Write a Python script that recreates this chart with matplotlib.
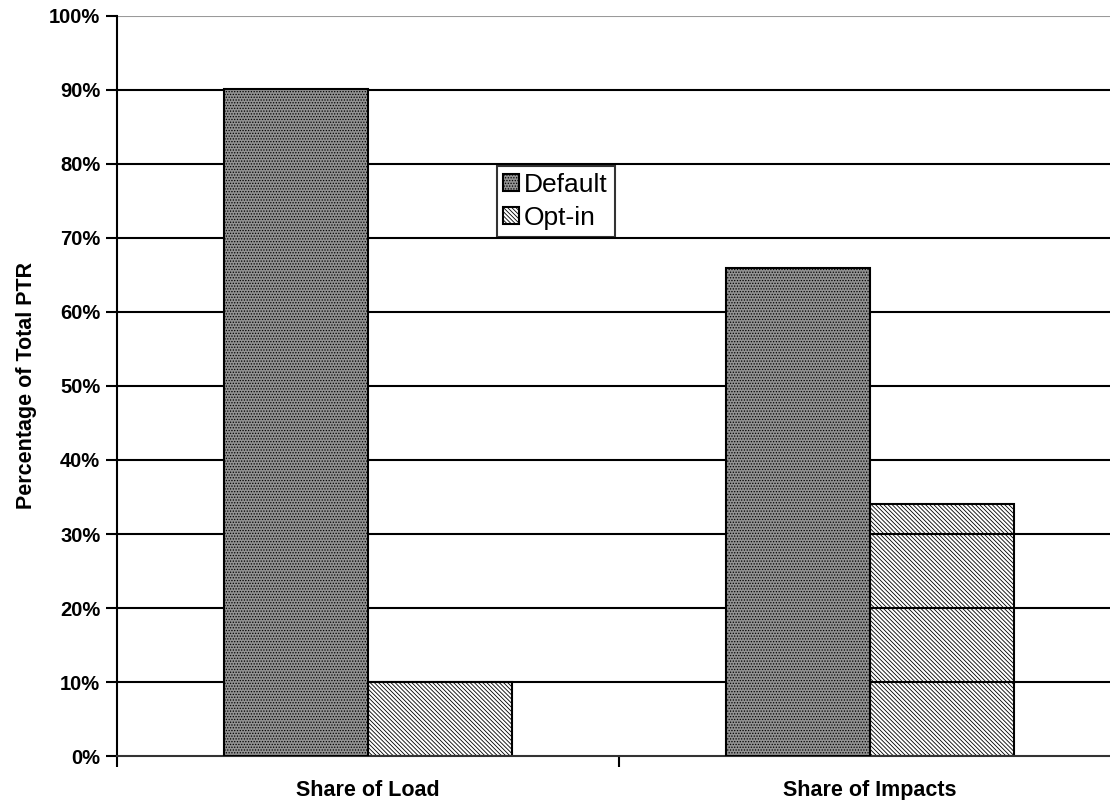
import numpy as np
import matplotlib.pyplot as plt
from matplotlib.ticker import PercentFormatter

categories = ["Share of Load", "Share of Impacts"]
default_share = [90.1, 66.0]
optin_share = [10.0, 34.0]
y_ticks = [0, 10, 20, 30, 40, 50, 60, 70, 80, 90, 100]

plt.rcParams["font.family"] = ["Liberation Sans", "DejaVu Sans"]
plt.rcParams["hatch.linewidth"] = 0.6

fig = plt.figure(figsize=(11.1, 8), dpi=100)
ax = fig.add_axes([117 / 1110, 44 / 800, 1004 / 1110, 740 / 800])

x = np.arange(len(categories))
w = 0.287

# opt-in bars sit under the gridlines, default bars on top
plt.rcParams["hatch.color"] = "#858585"
ax.bar(x + w / 2, optin_share, w, facecolor="white", edgecolor="black",
       linewidth=1.5, hatch="\\" * 8, zorder=1, label="Opt-in")
plt.rcParams["hatch.color"] = "#cccccc"
ax.bar(x - w / 2, default_share, w, facecolor="#929292", edgecolor="black",
       linewidth=1.5, hatch="......", zorder=3, label="Default")

for v in y_ticks[1:-1]:
    ax.axhline(v, color="black", linewidth=1.5, zorder=2)
ax.axhline(100, color="#9a9a9a", linewidth=1.5, zorder=2)

ax.set_xlim(-0.5, 1.5)
ax.set_ylim(0, 100)
ax.set_yticks(y_ticks)
ax.yaxis.set_major_formatter(PercentFormatter(decimals=0))
ax.set_xticks(x)
ax.set_xticklabels(categories)
ax.set_xticks([-0.5, 0.5, 1.5], minor=True)
ax.tick_params(axis="x", which="major", length=0, pad=17)
ax.tick_params(axis="x", which="minor", length=8, width=1.5, direction="out")
ax.tick_params(axis="y", length=8, width=1.5, direction="out", pad=4)
for lab in ax.get_xticklabels():
    lab.set_fontsize(15.5)
    lab.set_fontweight("bold")
for lab in ax.get_yticklabels():
    lab.set_fontsize(14.5)
    lab.set_fontweight("bold")

for s in ["top", "right"]:
    ax.spines[s].set_visible(False)
ax.spines["left"].set_linewidth(1.5)
ax.spines["bottom"].set_linewidth(1.5)
ax.spines["bottom"].set_color("#333333")

ax.set_ylabel("Percentage of Total PTR", fontsize=15.5, fontweight="bold", labelpad=9)

handles, labels = ax.get_legend_handles_labels()
leg = ax.legend(handles[::-1], labels[::-1], loc="upper left",
                bbox_to_anchor=(0.378, 0.797), fontsize=19, frameon=True,
                fancybox=False, edgecolor="black", handlelength=0.6,
                handleheight=0.6, handletextpad=0.2, borderpad=0.25,
                labelspacing=0.35, borderaxespad=0)
leg.get_frame().set_linewidth(1.5)
leg.set_zorder(5)

fig.savefig("out.png", dpi=100)
